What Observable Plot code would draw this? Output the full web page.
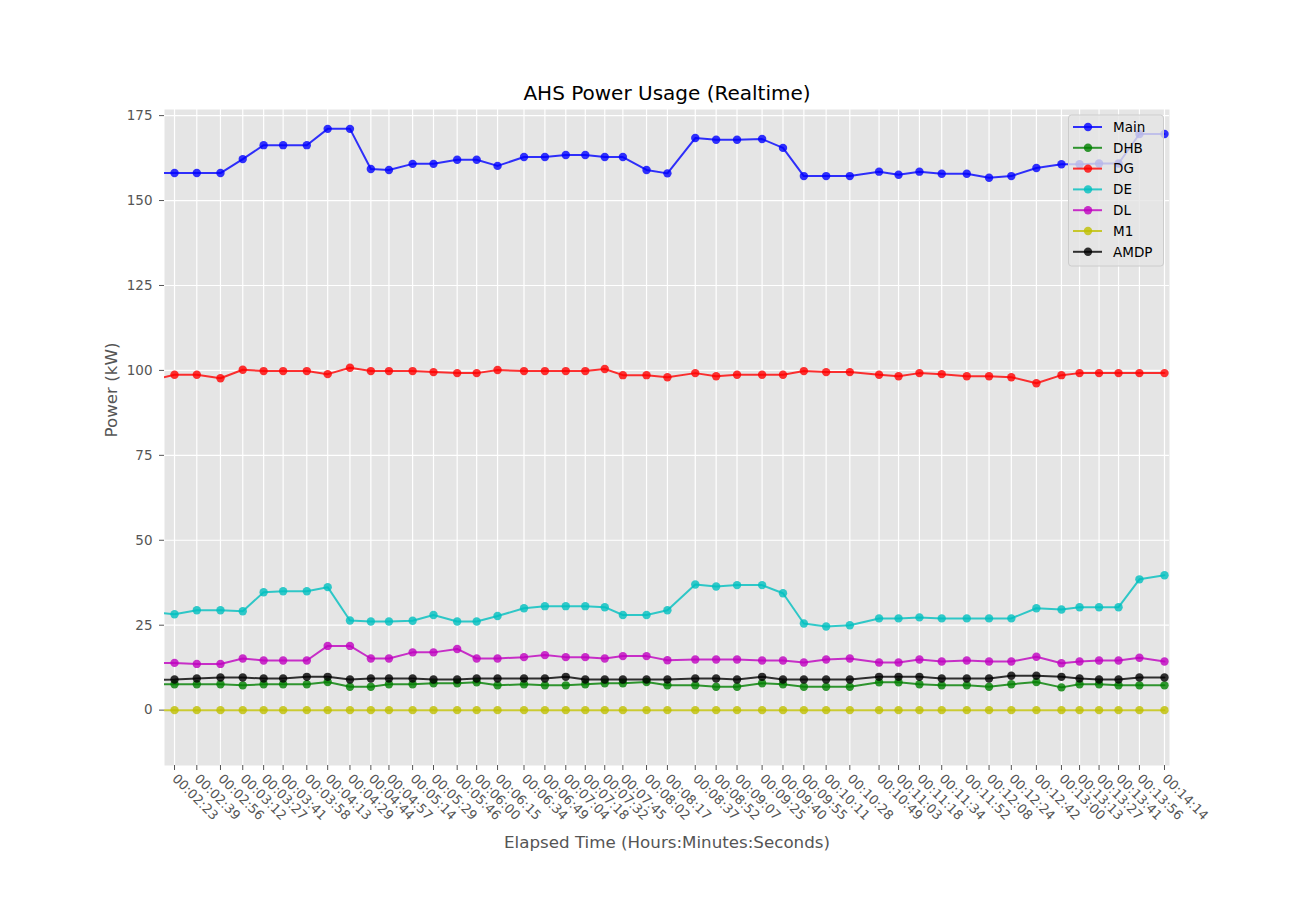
<!DOCTYPE html>
<html><head><meta charset="utf-8">
<script src="https://cdn.jsdelivr.net/npm/d3@7"></script>
<script src="https://cdn.jsdelivr.net/npm/@observablehq/plot@0.6"></script>
<style>body{margin:0;background:#fff;} #chart svg{display:block}</style>
</head><body><div id="chart"></div>
<script>
// sample times (the first sample lies just left of the visible window)
const times = ["00:02:08","00:02:23","00:02:39","00:02:56","00:03:12","00:03:27","00:03:41","00:03:58","00:04:13","00:04:29","00:04:44","00:04:57","00:05:14","00:05:29","00:05:46","00:06:00","00:06:15","00:06:34","00:06:49","00:07:04","00:07:18","00:07:32","00:07:45","00:08:02","00:08:17","00:08:37","00:08:52","00:09:07","00:09:25","00:09:40","00:09:55","00:10:11","00:10:28","00:10:49","00:11:03","00:11:18","00:11:34","00:11:52","00:12:08","00:12:24","00:12:42","00:13:00","00:13:13","00:13:27","00:13:41","00:13:56","00:14:14"];
const tickLabels = ["00:02:23","00:02:39","00:02:56","00:03:12","00:03:27","00:03:41","00:03:58","00:04:13","00:04:29","00:04:44","00:04:57","00:05:14","00:05:29","00:05:46","00:06:00","00:06:15","00:06:34","00:06:49","00:07:04","00:07:18","00:07:32","00:07:45","00:08:02","00:08:17","00:08:37","00:08:52","00:09:07","00:09:25","00:09:40","00:09:55","00:10:11","00:10:28","00:10:49","00:11:03","00:11:18","00:11:34","00:11:52","00:12:08","00:12:24","00:12:42","00:13:00","00:13:13","00:13:27","00:13:41","00:13:56","00:14:14"];
const seriesNames = ["Main","DHB","DG","DE","DL","M1","AMDP"];
const seriesColors = ["#0000ff","#008000","#ff0000","#00bfbf","#bf00bf","#bfbf00","#000000"];
const yTicks = [0,25,50,75,100,125,150,175];

const main = [158.1,158.1,158.1,158.1,162.2,166.3,166.3,166.3,171.1,171.1,159.3,159.0,160.8,160.8,162.0,162.0,160.2,162.8,162.8,163.4,163.4,162.8,162.8,159.0,158.0,168.4,167.9,167.9,168.1,165.5,157.2,157.2,157.2,158.5,157.6,158.5,157.9,157.9,156.7,157.2,159.6,160.7,160.7,160.9,160.9,169.6,169.6];
const dhb = [7.6,7.6,7.6,7.6,7.3,7.6,7.6,7.6,8.3,6.9,6.9,7.6,7.6,7.9,7.9,8.2,7.3,7.6,7.3,7.3,7.6,7.9,7.9,8.3,7.3,7.3,6.9,6.9,7.9,7.6,6.9,6.9,6.9,8.2,8.2,7.6,7.3,7.3,6.9,7.6,8.3,6.7,7.6,7.6,7.3,7.3,7.3];
const dg = [97.3,98.7,98.7,97.7,100.2,99.8,99.8,99.8,98.9,100.8,99.8,99.8,99.8,99.5,99.2,99.2,100.1,99.8,99.8,99.8,99.8,100.4,98.6,98.6,98.0,99.2,98.3,98.7,98.7,98.7,99.8,99.5,99.5,98.7,98.3,99.2,98.9,98.3,98.3,98.0,96.2,98.6,99.2,99.2,99.2,99.2,99.2];
const de = [28.8,28.2,29.4,29.4,29.1,34.7,35.0,35.0,36.2,26.4,26.1,26.1,26.3,28.0,26.1,26.1,27.7,30.0,30.6,30.6,30.6,30.3,28.0,28.0,29.4,37.0,36.4,36.8,36.8,34.4,25.5,24.6,25.0,27.0,27.0,27.3,27.0,27.0,27.0,27.0,30.0,29.6,30.3,30.3,30.3,38.5,39.7];
const dl = [13.9,13.9,13.6,13.6,15.2,14.6,14.6,14.6,18.9,18.9,15.2,15.2,17.0,17.0,18.0,15.2,15.2,15.6,16.2,15.6,15.6,15.2,15.9,15.9,14.7,14.9,14.9,14.9,14.6,14.6,14.0,14.9,15.2,14.0,14.0,14.9,14.3,14.6,14.3,14.3,15.7,13.8,14.3,14.6,14.6,15.4,14.3];
const m1 = [0,0,0,0,0,0,0,0,0,0,0,0,0,0,0,0,0,0,0,0,0,0,0,0,0,0,0,0,0,0,0,0,0,0,0,0,0,0,0,0,0,0,0,0,0,0,0];
const amdp = [8.9,9.0,9.3,9.6,9.6,9.3,9.3,9.8,9.8,9.0,9.3,9.3,9.3,9.0,9.0,9.3,9.3,9.3,9.3,9.8,9.0,9.0,9.0,9.0,9.0,9.3,9.3,9.0,9.8,9.0,9.0,9.0,9.0,9.8,9.8,9.8,9.3,9.3,9.3,10.1,10.1,9.8,9.3,9.0,9.0,9.6,9.6];

const toSec = s => { const [h, m, x] = s.split(":").map(Number); return h * 3600 + m * 60 + x; };
const tickSecs = tickLabels.map(toSec);
const fmt = new Map(tickLabels.map(l => [toSec(l), l]));
const valuesBySeries = [main, dhb, dg, de, dl, m1, amdp];
const rows = [];
seriesNames.forEach((name, si) => times.forEach((t, i) => rows.push({t: toSec(t), v: valuesBySeries[si][i], series: name})));

const plot = Plot.plot({
  width: 1300, height: 900,
  marginLeft: 164, marginRight: 131, marginTop: 109, marginBottom: 135,
  style: {fontFamily: "DejaVu Sans", fontSize: "13px", color: "#555555", background: "white"},
  x: {type: "linear", domain: [135.8, 857.6]},
  y: {domain: [-16.3, 176.8]},
  color: {domain: seriesNames, range: seriesColors},
  marks: [
    Plot.frame({fill: "#e5e5e5", stroke: "none"}),
    Plot.gridX(tickSecs, {stroke: "white", strokeOpacity: 1, strokeWidth: 1.2}),
    Plot.gridY(yTicks, {stroke: "white", strokeOpacity: 1, strokeWidth: 1.2}),
    Plot.line(rows, {x: "t", y: "v", z: "series", stroke: "series", strokeWidth: 2, strokeOpacity: 0.8, clip: true}),
    Plot.dot(rows, {x: "t", y: "v", fill: "series", r: 4.2, fillOpacity: 0.8, clip: true}),
    Plot.axisX(tickSecs, {tickFormat: d => fmt.get(d), tickRotate: 45, tickSize: 5, tickPadding: 6, label: null, fontSize: 13}),
    Plot.axisY(yTicks, {tickSize: 5, tickPadding: 7, label: null, fontSize: 13.5}),
    Plot.text(["AHS Power Usage (Realtime)"], {frameAnchor: "top", dy: -16, fontSize: 20, fill: "black", lineAnchor: "middle"}),
    Plot.text(["Elapsed Time (Hours:Minutes:Seconds)"], {frameAnchor: "bottom", dy: 77, fontSize: 16.7, fill: "#555555", lineAnchor: "middle"}),
    Plot.text(["Power (kW)"], {frameAnchor: "left", dx: -53, rotate: -90, fontSize: 16.7, fill: "#555555", lineAnchor: "middle"})
  ]
});

// legend (matplotlib-style, upper right inside the axes)
const svg = d3.select(plot);
const lg = svg.append("g").attr("font-family", "DejaVu Sans").attr("font-size", 13.5).attr("text-anchor", "start");
lg.append("rect").attr("x", 1068.5).attr("y", 115).attr("width", 95).attr("height", 151).attr("rx", 3)
  .attr("fill", "#e5e5e5").attr("fill-opacity", 0.8).attr("stroke", "#cccccc");
seriesNames.forEach((n, i) => {
  const yy = 127 + i * 20.8;
  lg.append("line").attr("x1", 1073).attr("x2", 1102).attr("y1", yy).attr("y2", yy)
    .attr("stroke", seriesColors[i]).attr("stroke-width", 2).attr("stroke-opacity", 0.8);
  lg.append("circle").attr("cx", 1088).attr("cy", yy).attr("r", 4.2).attr("fill", seriesColors[i]).attr("fill-opacity", 0.8);
  lg.append("text").attr("x", 1113).attr("y", yy).attr("dy", "0.35em").attr("fill", "black").attr("text-anchor", "start").text(n);
});

document.getElementById("chart").appendChild(plot);
</script>
</body></html>
